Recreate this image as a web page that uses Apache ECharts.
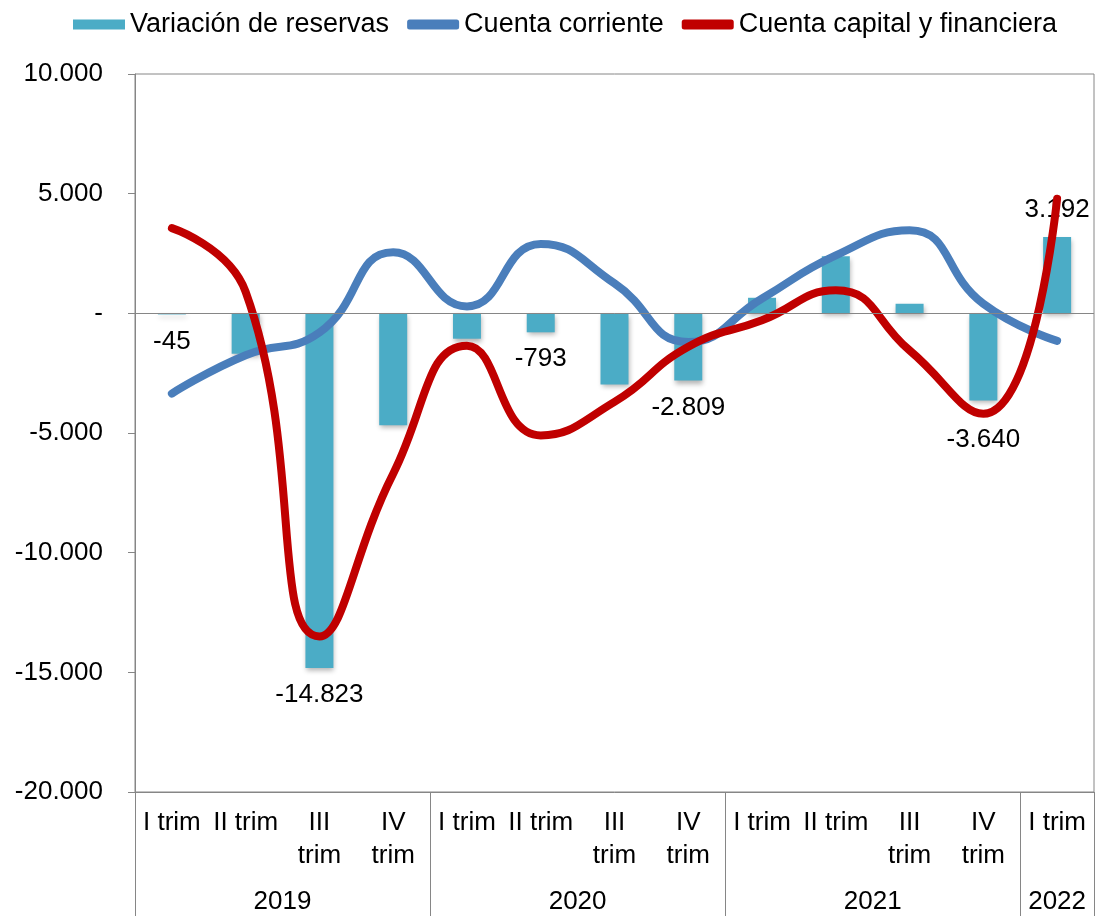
<!DOCTYPE html>
<html>
<head>
<meta charset="utf-8">
<script src="https://cdn.jsdelivr.net/npm/echarts@6/dist/echarts.min.js"></script>
<style>
html,body{margin:0;padding:0;background:#fff;}
#chart{width:1105px;height:916px;}
</style>
</head>
<body>
<div id="chart"></div>
<script>
const quarters = ['I trim','II trim','III\ntrim','IV\ntrim','I trim','II trim','III\ntrim','IV\ntrim','I trim','II trim','III\ntrim','IV\ntrim','I trim'];
const years = ['2019','2020','2021','2022'];
const quartersPerYear = [4,4,4,1];
const reservas = [-45,-1690,-14823,-4680,-1060,-793,-2970,-2809,650,2380,400,-3640,3192];
const cuentaCorriente = [-3350,-1750,-800,2550,290,2900,1250,-1200,620,2420,3470,400,-1150];
const cuentaCapital = [3560,900,-13500,-6700,-1350,-5100,-3700,-1400,-290,960,-1550,-4200,4790];
const labeledIdx = [0,2,5,7,11,12];
const yTicks = {min:-20000, max:10000, interval:5000};

// label style tweaks (kept apart from the data)
const labelExtraOffset = {11: [0, 12]};

function fmt(v){
  if (v === 0) return '-';
  const s = Math.abs(v).toString().replace(/\B(?=(\d{3})+(?!\d))/g, '.');
  return (v < 0 ? '-' : '') + s;
}

// year labels on a half-slot point axis
const yearSlots = new Array(quarters.length * 2 + 1).fill('');
let start = 0;
years.forEach((y, k) => { yearSlots[2 * start + quartersPerYear[k]] = y; start += quartersPerYear[k]; });

const FONT = "'Liberation Sans', Arial, sans-serif";
const GRAY = '#868686';

const chart = echarts.init(document.getElementById('chart'));
chart.setOption({
  animation: false,
  textStyle: {fontFamily: FONT},
  legend: {
    top: 6, left: 68,
    itemWidth: 52, itemHeight: 10, itemGap: 18,
    textStyle: {fontSize: 27, color: '#000', fontFamily: FONT},
    data: [
      {name: 'Variación de reservas', icon: 'rect'},
      {name: 'Cuenta corriente', icon: 'roundRect'},
      {name: 'Cuenta capital y financiera', icon: 'roundRect'}
    ]
  },
  grid: {left: 135, right: 11, top: 74, bottom: 124, show: true, borderColor: GRAY, borderWidth: 1, containLabel: false},
  xAxis: [
    {
      type: 'category', data: quarters, position: 'bottom',
      axisLine: {show: true, onZero: false, lineStyle: {color: GRAY}},
      axisTick: {show: true, length: 124, interval: function(i){ return i % 4 === 0; }, lineStyle: {color: GRAY}},
      axisLabel: {interval: 0, fontSize: 26, color: '#000', lineHeight: 33, margin: 14, fontFamily: FONT}
    },
    {
      type: 'category', data: yearSlots, position: 'bottom', boundaryGap: false, offset: 89,
      axisLine: {show: false}, axisTick: {show: false},
      axisLabel: {interval: 0, fontSize: 26, color: '#000', margin: 8, fontFamily: FONT}
    }
  ],
  yAxis: {
    type: 'value', min: yTicks.min, max: yTicks.max, interval: yTicks.interval,
    axisLine: {show: true, lineStyle: {color: GRAY}},
    axisTick: {show: true, length: 7, lineStyle: {color: GRAY}},
    splitLine: {show: false},
    axisLabel: {formatter: fmt, fontSize: 26, color: '#000', margin: 32, fontFamily: FONT}
  },
  series: [
    {
      name: 'Variación de reservas', type: 'bar', xAxisIndex: 0, barWidth: 28,
      itemStyle: {color: '#4bacc6', shadowColor: 'rgba(0,0,0,0.3)', shadowBlur: 5, shadowOffsetX: 1, shadowOffsetY: 3},
      label: {fontSize: 26, color: '#000', distance: 14, formatter: p => fmt(p.value), fontFamily: FONT},
      data: reservas.map((v, i) => ({value: v, label: {show: labeledIdx.includes(i), position: v < 0 ? 'bottom' : 'top', offset: labelExtraOffset[i] || [0, 0]}})),
      markLine: {silent: true, symbol: 'none', label: {show: false}, lineStyle: {color: GRAY, type: 'solid', width: 1}, data: [{yAxis: 0}]},
      z: 2
    },
    {
      name: 'Cuenta corriente', type: 'line', xAxisIndex: 0, smooth: 0.5, symbol: 'none',
      itemStyle: {color: '#4a7ebb'},
      lineStyle: {color: '#4a7ebb', width: 8, cap: 'round'},
      data: cuentaCorriente, z: 3
    },
    {
      name: 'Cuenta capital y financiera', type: 'line', xAxisIndex: 0, smooth: 0.5, symbol: 'none',
      itemStyle: {color: '#c00000'},
      lineStyle: {color: '#c00000', width: 8, cap: 'round'},
      data: cuentaCapital, z: 4
    }
  ]
});
</script>
</body>
</html>
